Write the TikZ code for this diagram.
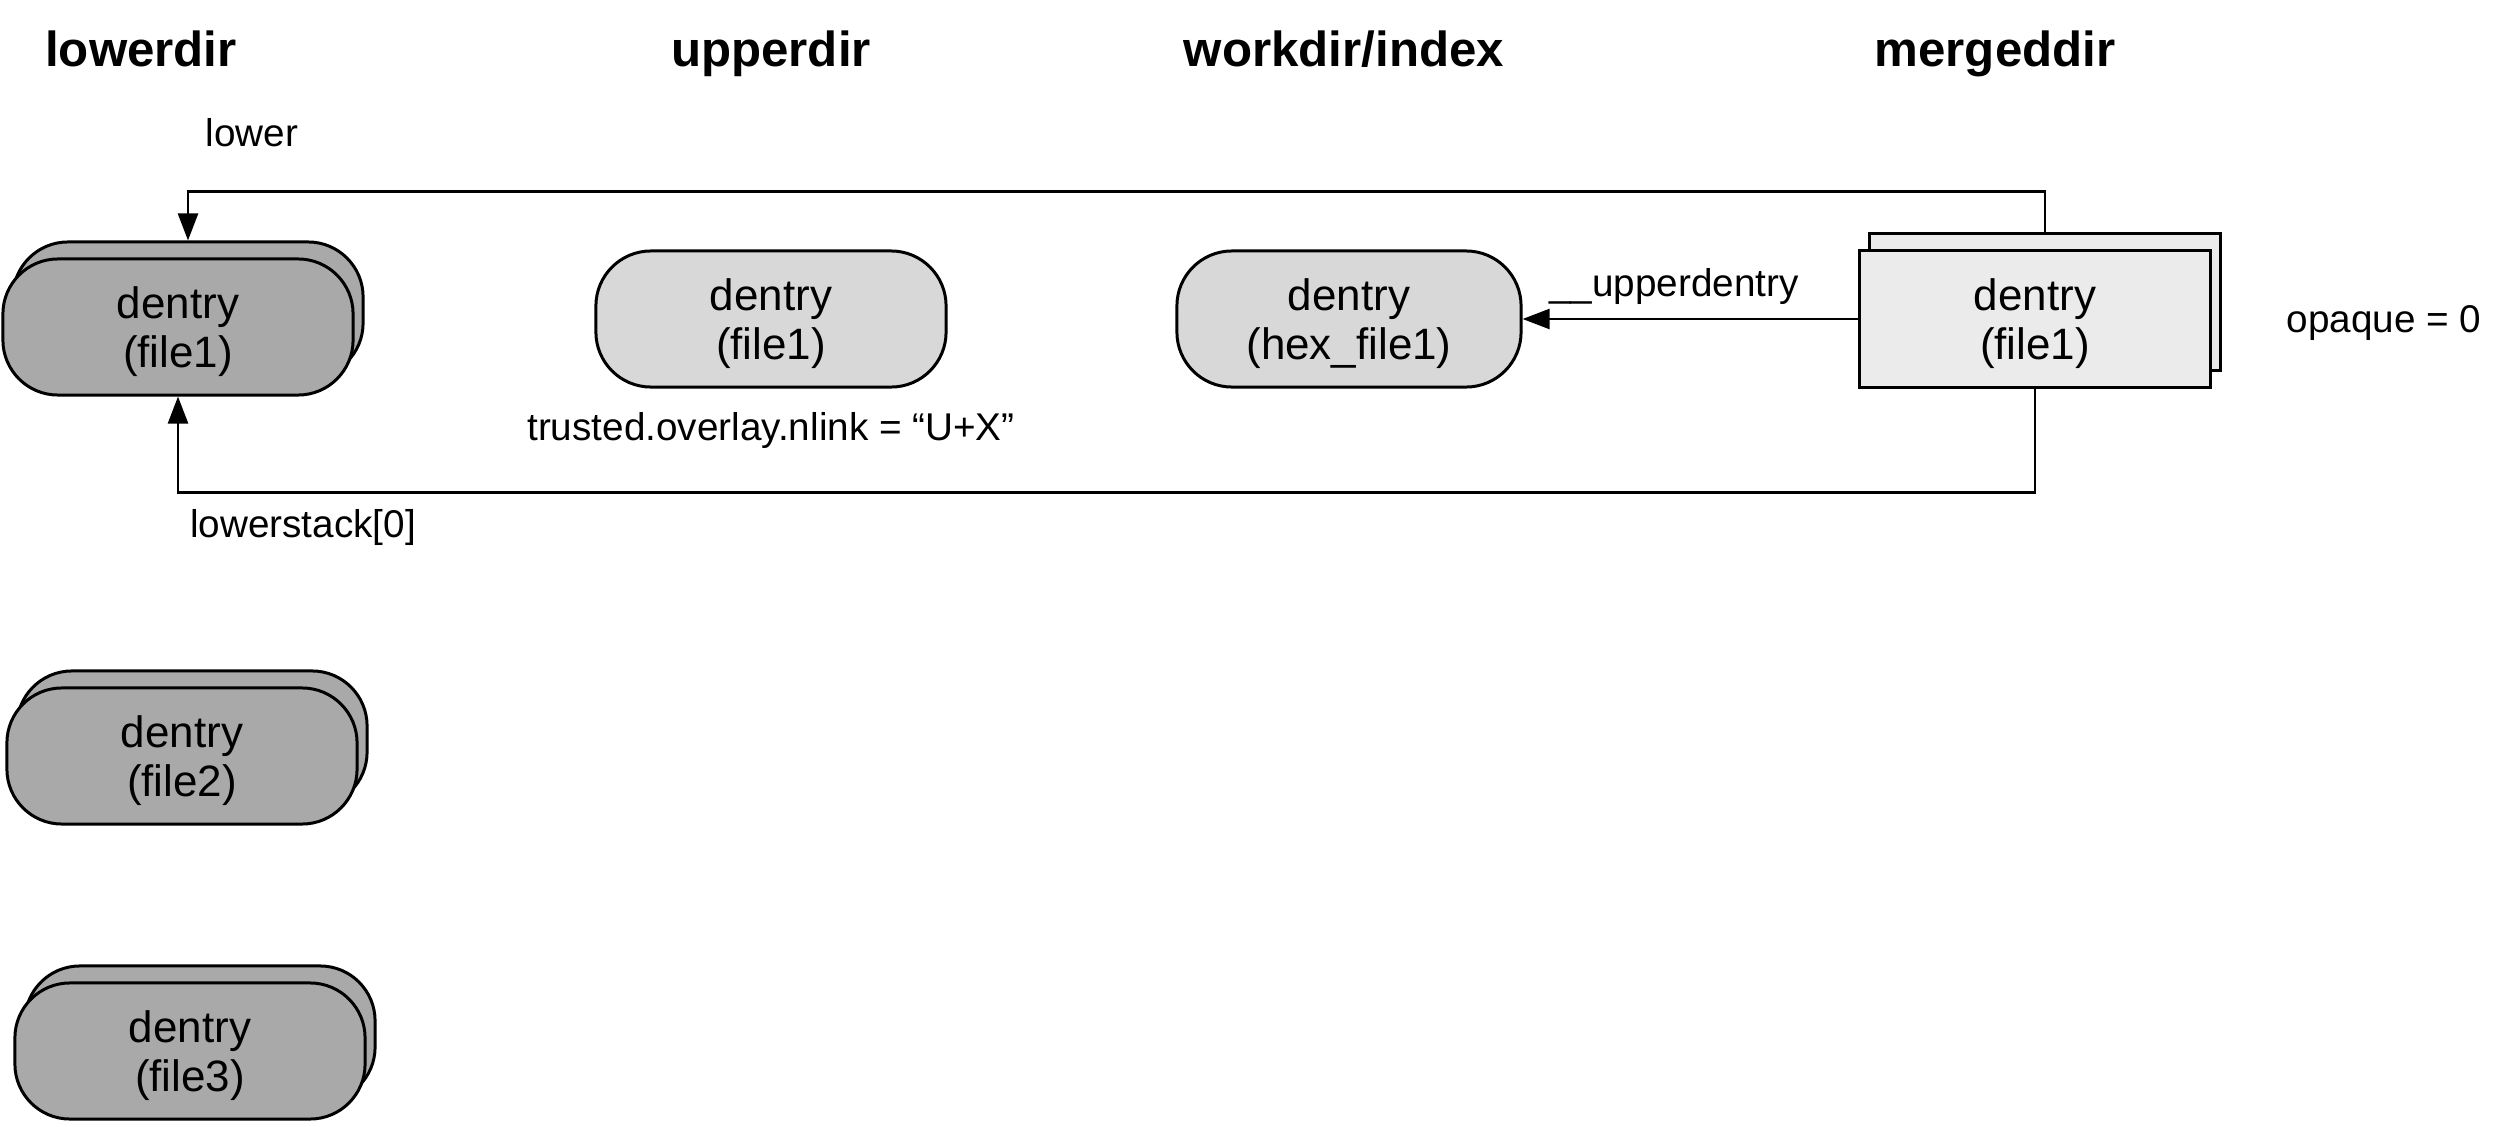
\documentclass[tikz,border=0pt]{standalone}
\usepackage{fontspec}
\setmainfont{Liberation Sans}
\usetikzlibrary{arrows.meta,shadows}

\definecolor{lowgray}{HTML}{A9A9A9}
\definecolor{upgray}{HTML}{D8D8D8}
\definecolor{mergegray}{HTML}{EBEBEB}

\tikzset{
  dentry/.style={draw, line width=0.85pt, inner sep=0pt,
    minimum width=3.5cm, minimum height=1.36cm, align=center,
    font=\fontsize{12.5}{14.2}\selectfont, text height=0.91cm},
  lowbox/.style={dentry, fill=lowgray, rounded corners=0.55cm,
    copy shadow={shadow xshift=0.1cm, shadow yshift=0.17cm}},
  upbox/.style={dentry, fill=upgray, rounded corners=0.55cm},
  mergebox/.style={dentry, fill=mergegray,
    copy shadow={shadow xshift=0.1cm, shadow yshift=0.17cm}},
  heading/.style={anchor=base, font=\fontsize{14}{17}\selectfont\bfseries},
  lbl/.style={anchor=base, font=\fontsize{11}{13}\selectfont}
}

\begin{document}
\begin{tikzpicture}[x=0.01cm, y=-0.01cm, line width=0.7pt,
  >={Triangle[length=2.7mm,width=2mm]}]
\useasboundingbox (0,0) rectangle (2499,1127);

% column headings
\node (lowtitle) [heading] at (141,66) {lowerdir};
\node (uptitle) [heading] at (771,66) {upperdir};
\node (worktitle) [heading] at (1344,66) {workdir/index};
\node (mergetitle) [heading] at (1995,66) {mergeddir};

% dentries
\node (lowfileone) [lowbox] at (178,327) {dentry\\(file1)};
\node (lowfiletwo) [lowbox] at (182,756) {dentry\\(file2)};
\node (lowfilethree) [lowbox] at (190,1051) {dentry\\(file3)};
\node (upfile) [upbox] at (771,319) {dentry\\(file1)};
\node (workfile) [upbox,
    minimum width=3.44cm
] at (1349,319) {dentry\\(hex\_file1)};
\node (mergefile) [mergebox] at (2035,319) {dentry\\(file1)};

% labels
\node (lowerlbl) [lbl] at (252,146) {lower};
\node (stacklbl) [lbl] at (303,537) {lowerstack[0]};
\node (nlinklbl) [lbl] at (771,440) {trusted.overlay.nlink = “U+X”};
\node (upperlbl) [lbl] at (1674,296) {\_\_upperdentry};
\node (opaquelbl) [lbl] at (2384,332) {opaque = 0};

% connectors
\coordinate (mergetop) at ([shift={(10,-17)}]mergefile.north);
\coordinate (lowtop) at ([shift={(10,-17)}]lowfileone.north);

\draw [->] (mergetop) -- ++(0,-41) -| (lowtop);
\draw [->] (mergefile.south) -- ++(0,104) -| (lowfileone.south);
\draw [->] (mergefile.west) -- (workfile.east);

\end{tikzpicture}
\end{document}
